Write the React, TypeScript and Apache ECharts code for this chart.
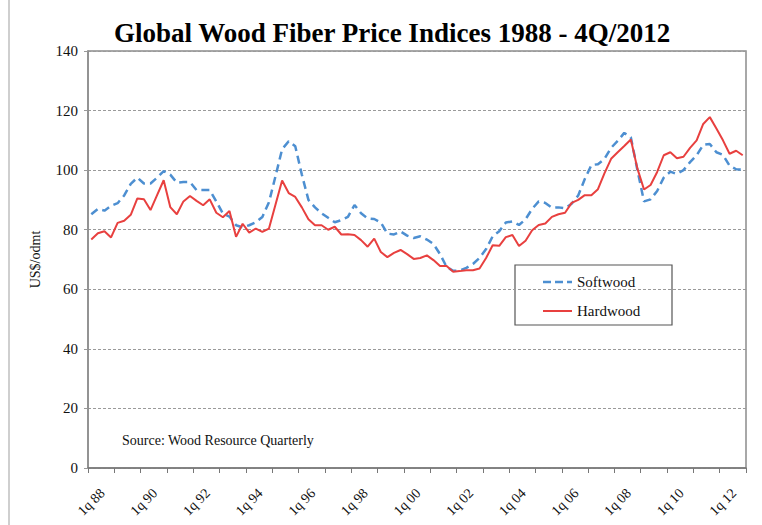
import React, { useEffect, useRef } from "react";
import * as echarts from "echarts";

const years = ["88","89","90","91","92","93","94","95","96","97","98","99","00","01","02","03","04","05","06","07","08","09","10","11","12"];
const quarterNames = ["1q","2q","3q","4q"];

const softwood = [
  85.2, 87, 86.4, 88, 88.9, 91.5, 95.4, 97.5, 95.5, 95.5,
  97.5, 99.7, 98.5, 95.8, 96, 96, 93.3, 93.3, 93.3, 89.5,
  85.4, 84.4, 81.5, 80.8, 81.5, 82.5, 84.3, 89.2, 98, 107,
  109.7, 108, 98.5, 90, 87.5, 85.5, 84, 82.5, 83.2, 84.3,
  88.3, 85.5, 83.8, 83.6, 82.4, 78.7, 78.4, 79.4, 78, 77.2,
  77.8, 76.7, 75.2, 71.8, 67.5, 66.2, 66.3, 67.2, 68.5, 70.5,
  73.5, 77.8, 79.5, 82.4, 82.8, 81.6, 83.5, 87, 89.5, 89,
  87.4, 87.5, 87.2, 88.7, 91.5, 97, 101.7, 102, 103.8, 107.5,
  109.8, 112.5, 111, 100, 89.5, 90.2, 93, 97.5, 99.5, 98.7,
  100, 102.7, 105, 108.5, 108.8, 106, 105.1, 101.5, 100.3, 100.2
];

const hardwood = [
  76.7, 78.8, 79.5, 77.4, 82.3, 83, 85, 90.5, 90.2, 86.6,
  91.6, 96.6, 87.6, 85.2, 89.5, 91.3, 89.7, 88.2, 90.2, 85.7,
  84.2, 86.3, 77.6, 82, 79, 80.4, 79.3, 80.4, 88.5, 96.5,
  92.3, 91, 87.5, 83.5, 81.5, 81.5, 80, 81, 78.4, 78.5,
  78.2, 76.5, 74.3, 77, 72.5, 70.8, 72.2, 73.2, 71.8, 70.2,
  70.5, 71.4, 69.8, 67.8, 67.8, 65.9, 66.1, 66.4, 66.4, 67,
  70.5, 74.8, 74.6, 77.5, 78.2, 74.5, 76.3, 79.8, 81.6, 82.1,
  84.3, 85.2, 85.7, 89, 90, 91.6, 91.6, 93.6, 99, 103.8,
  106, 108.1, 110.3, 100.5, 93.5, 95, 99.4, 105, 106, 104,
  104.5, 107.5, 110, 115.5, 117.8, 114, 110, 105.5, 106.5, 105
];

const categories: string[] = [];
years.forEach((y) => quarterNames.forEach((q) => categories.push(q + " " + y)));

const seriesNames = ["Softwood", "Hardwood"];
const seriesColors = ["#4d8fd1", "#e8403f"];
const titleText = "Global Wood Fiber Price Indices 1988 - 4Q/2012";
const sourceText = "Source: Wood Resource Quarterly";
const yAxisName = "US$/odmt";

const SERIF = "Liberation Serif";

export default function App() {
  const ref = useRef<HTMLDivElement>(null);
  useEffect(() => {
    if (!ref.current) return;
    const chart = echarts.init(ref.current, null, { renderer: "svg" });
    chart.setOption({
      animation: false,
      backgroundColor: "#fff",
      textStyle: { fontFamily: SERIF },
      grid: {
        left: 88, right: 16, top: 51, bottom: 57,
        show: true, borderColor: "#8c8c8c", borderWidth: 1.5, backgroundColor: "transparent"
      },
      xAxis: {
        type: "category",
        data: categories,
        boundaryGap: true,
        axisLine: { lineStyle: { color: "#777", width: 1.5 } },
        axisTick: { show: true, interval: 3, length: 5, lineStyle: { color: "#777" } },
        axisLabel: {
          interval: 7, rotate: 45, margin: 34, align: "center", verticalAlign: "middle",
          fontFamily: SERIF, fontSize: 14, color: "#111",
          formatter: "{s|{value}}",
          rich: { s: { fontFamily: SERIF, fontSize: 14, color: "#111" } }
        },
        splitLine: { show: false }
      },
      yAxis: {
        type: "value",
        min: 0, max: 140, interval: 20,
        name: yAxisName,
        nameLocation: "middle",
        nameGap: 46,
        nameRotate: 90,
        nameTextStyle: { fontFamily: SERIF, fontSize: 14, color: "#111" },
        axisLine: { show: true, lineStyle: { color: "#8c8c8c", width: 1.5 } },
        axisTick: { show: true, length: 4, lineStyle: { color: "#999" } },
        axisLabel: {
          margin: 10, fontFamily: SERIF, fontSize: 15, color: "#111",
          formatter: "{s|{value}}",
          rich: { s: { fontFamily: SERIF, fontSize: 15, color: "#111" } }
        },
        splitLine: { show: true, lineStyle: { color: "#9a9a9a", type: [3, 2], width: 1 } }
      },
      series: [
        {
          name: seriesNames[0], type: "line", data: softwood,
          symbol: "none", smooth: false,
          itemStyle: { color: seriesColors[0] },
          lineStyle: { color: seriesColors[0], width: 2.5, type: [8, 5] }
        },
        {
          name: seriesNames[1], type: "line", data: hardwood,
          symbol: "none", smooth: false,
          itemStyle: { color: seriesColors[1] },
          lineStyle: { color: seriesColors[1], width: 2 }
        }
      ],
      graphic: [
        { type: "line", shape: { x1: 9, y1: 0, x2: 9, y2: 525 }, style: { stroke: "#cfcfcf", lineWidth: 2 } },
        { type: "text", x: 392, y: 33, style: { text: titleText, fontFamily: SERIF, fontWeight: "bold", fontSize: 27, fill: "#000", textAlign: "center", textVerticalAlign: "middle" } },
        { type: "text", x: 122, y: 440, style: { text: sourceText, fontFamily: SERIF, fontSize: 14, fill: "#111", textAlign: "left", textVerticalAlign: "middle" } },
        {
          type: "group", z: 100,
          children: [
            { type: "rect", shape: { x: 515, y: 265, width: 157, height: 60 }, style: { fill: "#fff", stroke: "#555", lineWidth: 1.2 } },
            { type: "line", shape: { x1: 543, y1: 282, x2: 572, y2: 282 }, style: { stroke: seriesColors[0], lineWidth: 2.5, lineDash: [8, 4] } },
            { type: "text", x: 577, y: 282, style: { text: seriesNames[0], fontFamily: SERIF, fontSize: 15, fill: "#111", textAlign: "left", textVerticalAlign: "middle" } },
            { type: "line", shape: { x1: 543, y1: 311, x2: 572, y2: 311 }, style: { stroke: seriesColors[1], lineWidth: 2 } },
            { type: "text", x: 577, y: 311, style: { text: seriesNames[1], fontFamily: SERIF, fontSize: 15, fill: "#111", textAlign: "left", textVerticalAlign: "middle" } }
          ]
        }
      ]
    });
    return () => chart.dispose();
  }, []);
  return <div ref={ref} style={{ position: "fixed", left: 0, top: 0, width: 762, height: 525 }} />;
}
